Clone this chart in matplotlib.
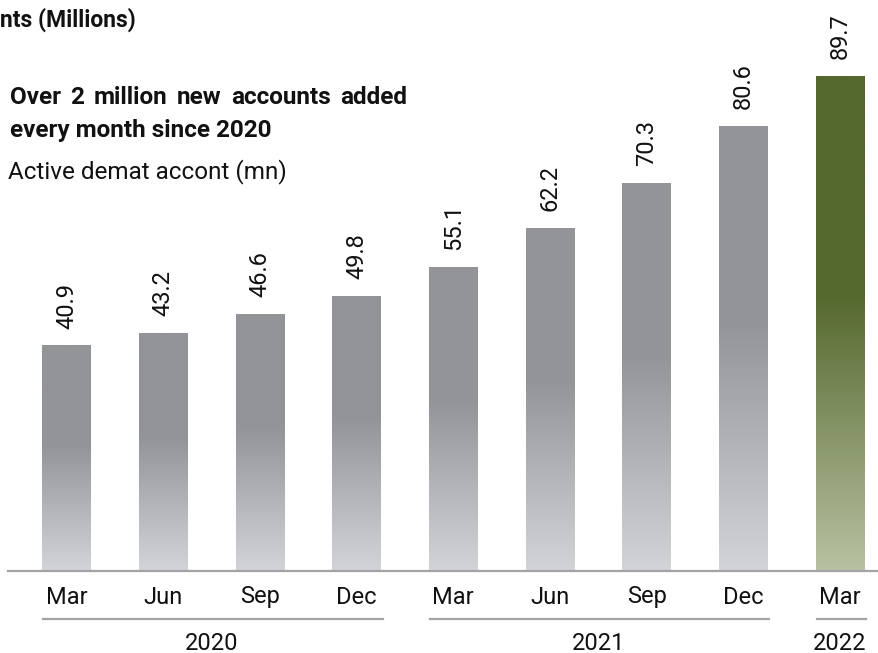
import numpy as np
import matplotlib
matplotlib.use("Agg")
import matplotlib.pyplot as plt
from matplotlib.colors import to_rgb
import matplotlib.transforms as mtransforms

plt.rcParams["font.family"] = ["Roboto", "DejaVu Sans"]

# quarterly active demat accounts (mn)
months = ["Mar", "Jun", "Sep", "Dec", "Mar", "Jun", "Sep", "Dec", "Mar"]
accounts = [40.9, 43.2, 46.6, 49.8, 55.1, 62.2, 70.3, 80.6, 89.7]
years = ["2020", "2021", "2022"]
year_spans = [(0, 3), (4, 7), (8, 8)]

gray_top, gray_bottom = "#939498", "#d3d4d7"
green_top, green_bottom = "#55682d", "#b8c1a2"
TEXT = "#111111"
LINE = "#a3a3a5"


def gradient(top, bottom, n=200, frac=0.56):
    # solid colour on the upper part, fading to light towards the base
    t = np.linspace(0, 1, n)  # 0 = base, 1 = top
    w = np.clip(t / frac, 0, 1)[:, None]
    c0 = np.array(to_rgb(bottom))
    c1 = np.array(to_rgb(top))
    rgb = c0 + (c1 - c0) * w
    return rgb[:, None, :]


def justified(fig, words, x0, x1, y, **kw):
    # lay words out so the line runs exactly from x0 to x1 (pixels)
    r = fig.canvas.get_renderer()
    arts = [fig.text(0, y, w, ha="left", va="center", **kw) for w in words]
    widths = [a.get_window_extent(r).width for a in arts]
    gap = (x1 - x0 - sum(widths)) / (len(words) - 1)
    pos = x0
    for a, w in zip(arts, widths):
        a.set_x(pos / W)
        pos += w + gap


W, H = 879, 653
fig = plt.figure(figsize=(W / 100, H / 100), dpi=100)
ax = fig.add_axes([8 / W, 82 / H, 871 / W, 571 / H])

x = np.arange(len(accounts))
bars = ax.bar(x, accounts, width=0.5, color="none", edgecolor="none")

for i, (b, v) in enumerate(zip(bars, accounts)):
    last = i == len(accounts) - 1
    top, bottom = (green_top, green_bottom) if last else (gray_top, gray_bottom)
    img = ax.imshow(gradient(top, bottom), extent=[b.get_x(), b.get_x() + b.get_width(), 0, v],
                    origin="lower", aspect="auto", zorder=2)
    img.set_clip_path(b)
    ax.annotate(f"{v}", (i, v), xytext=(0, 12), textcoords="offset points",
                rotation=90, ha="center", va="bottom", fontsize=17, color=TEXT)

ax.set_xlim(-0.605, 8.403)
ax.set_ylim(0, 571 / 5.52)

for s in ["top", "left", "right"]:
    ax.spines[s].set_visible(False)
ax.spines["bottom"].set_color(LINE)
ax.spines["bottom"].set_linewidth(1.6)
ax.set_yticks([])
ax.set_xticks([])

# month and year labels below the axis
trans = mtransforms.blended_transform_factory(ax.transData, ax.transAxes)
for i, m in enumerate(months):
    ax.text(i, -26 / 571, m, transform=trans, ha="center", va="center",
            fontsize=17, color=TEXT)

for yr, (a, b) in zip(years, year_spans):
    ax.plot([a - 0.24, b + 0.27], [-48 / 571, -48 / 571], transform=trans,
            color=LINE, lw=1.6, clip_on=False)
    ax.text((a + b) / 2, -72 / 571, yr, transform=trans, ha="center", va="center",
            fontsize=17, color=TEXT)

# headings
fig.text(0 / W, 1 - 20 / H, "nts (Millions)", ha="left", va="center",
         fontsize=16.5, fontweight="bold", color=TEXT)
justified(fig, "Over 2 million new accounts added".split(), 10, 407, 1 - 97 / H,
          fontsize=17.5, fontweight="bold", color=TEXT)
fig.text(10 / W, 1 - 130 / H, "every month since 2020", ha="left", va="center",
         fontsize=17.5, fontweight="bold", color=TEXT)
fig.text(8 / W, 1 - 172 / H, "Active demat accont (mn)", ha="left", va="center",
         fontsize=17.5, color=TEXT)

fig.savefig("out.png", dpi=100)
